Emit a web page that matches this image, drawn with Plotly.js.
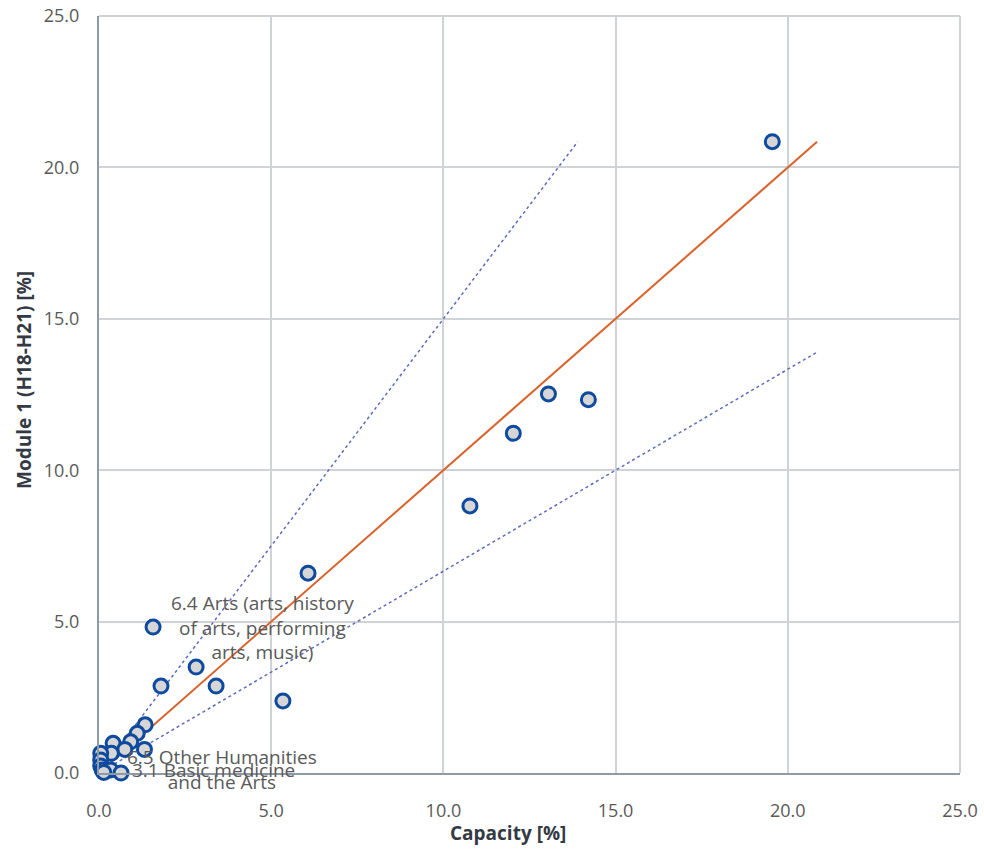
<!DOCTYPE html>
<html>
<head>
<meta charset="utf-8">
<script src="https://cdn.plot.ly/plotly-3.0.1.min.js"></script>
<style>html,body{margin:0;padding:0;background:#fff;}#chart{width:984px;height:855px;}</style>
</head>
<body>
<div id="chart"></div>
<script>
// Capacity [%] (x) vs Module 1 (H18-H21) [%] (y)
const capacity = [19.55, 14.21, 13.05, 12.03, 10.77, 6.07, 5.34, 3.40, 2.82, 1.80, 1.57, 1.34, 1.11, 0.92, 0.41, 0.75, 1.32, 0.36, 0.05, 0.05, 0.05, 0.09, 0.34, 0.64, 0.14];
const module1  = [20.85, 12.33, 12.52, 11.22, 8.82, 6.60, 2.38, 2.87, 3.50, 2.87, 4.82, 1.59, 1.31, 1.03, 0.98, 0.78, 0.78, 0.65, 0.65, 0.43, 0.23, 0.10, 0.10, 0.00, 0.02];

// reference lines: y = x, y = 1.5x, y = x/1.5
const lineEqualX = [0, 20.85];
const lineEqualY = [0, 20.85];
const lineUpperX = [0, 13.9];
const lineUpperY = [0, 20.85];
const lineLowerX = [0, 20.85];
const lineLowerY = [0, 13.9];

const tickVals = [0, 5, 10, 15, 20, 25];
const tickText = ["0.0", "5.0", "10.0", "15.0", "20.0", "25.0"];

const labelTexts = ["6.4 Arts (arts, history<br>of arts, performing<br>arts, music)", "6.5 Other Humanities<br>and the Arts", "3.1 Basic medicine"];
const labelX = [4.76, 3.57, 3.31];
const labelY = [4.79, 0.10, 0.10];

const xTitle = "Capacity [%]";
const yTitle = "Module 1 (H18-H21) [%]";

const fontFam = '"Open Sans", "Noto Sans", sans-serif';

const traces = [
  {x: lineUpperX, y: lineUpperY, mode: 'lines', line: {color: '#5b6bbf', width: 1.5, dash: 'dot'}, hoverinfo: 'skip'},
  {x: lineLowerX, y: lineLowerY, mode: 'lines', line: {color: '#5b6bbf', width: 1.5, dash: 'dot'}, hoverinfo: 'skip'},
  {x: lineEqualX, y: lineEqualY, mode: 'lines', line: {color: '#d9622b', width: 2}, hoverinfo: 'skip'},
  {x: capacity, y: module1, mode: 'markers', cliponaxis: false,
   marker: {size: 14, color: '#d6d6d6', line: {color: '#0e4a9e', width: 3}}}
];

const annotations = labelTexts.map((t, i) => ({
  x: labelX[i], y: labelY[i], xref: 'x', yref: 'y', text: t, showarrow: false,
  xanchor: 'center', yanchor: 'middle', align: 'center',
  font: {family: fontFam, size: 19, color: '#595959'}
}));
annotations.push({
  x: 508, y: 833, xref: 'paper', yref: 'paper', text: '<b>' + xTitle + '</b>', showarrow: false,
  xanchor: 'center', yanchor: 'middle',
  font: {family: fontFam, size: 19, color: '#333a44'}
});
annotations.push({
  x: 24, y: 380, xref: 'paper', yref: 'paper', text: '<b>' + yTitle + '</b>', showarrow: false,
  xanchor: 'center', yanchor: 'middle', textangle: -90,
  font: {family: fontFam, size: 19, color: '#333a44'}
});
// convert pixel positions of axis titles to paper coordinates
const L = 99, R = 24, T = 16, B = 82, W = 984, H = 855;
const pw = W - L - R, ph = H - T - B;
annotations[3].x = (annotations[3].x - L) / pw;
annotations[3].y = (H - B - annotations[3].y) / ph;
annotations[4].x = (annotations[4].x - L) / pw;
annotations[4].y = (H - B - annotations[4].y) / ph;

const axisCommon = {
  range: [0, 25], tickvals: tickVals, ticktext: tickText,
  showgrid: true, gridcolor: '#d0d3d6', gridwidth: 2,
  zeroline: false, showline: true, linecolor: '#8e9aa6', linewidth: 2,
  ticks: '', tickfont: {family: fontFam, size: 18, color: '#595959'},
  fixedrange: true
};

const layout = {
  width: W, height: H,
  margin: {l: L, r: R, t: T, b: B},
  paper_bgcolor: '#ffffff', plot_bgcolor: '#ffffff',
  showlegend: false,
  xaxis: Object.assign({}, axisCommon, {ticklabelstandoff: 20}),
  yaxis: Object.assign({}, axisCommon, {ticklabelstandoff: 14}),
  annotations: annotations,
  shapes: [
    {type: 'line', xref: 'paper', yref: 'paper', x0: 0, x1: 1, y0: 1, y1: 1, line: {color: '#d0d3d6', width: 2}},
    {type: 'line', xref: 'paper', yref: 'paper', x0: 1, x1: 1, y0: 0, y1: 1, line: {color: '#d0d3d6', width: 2}}
  ]
};

Plotly.newPlot('chart', traces, layout, {displayModeBar: false, staticPlot: true});
</script>
</body>
</html>
